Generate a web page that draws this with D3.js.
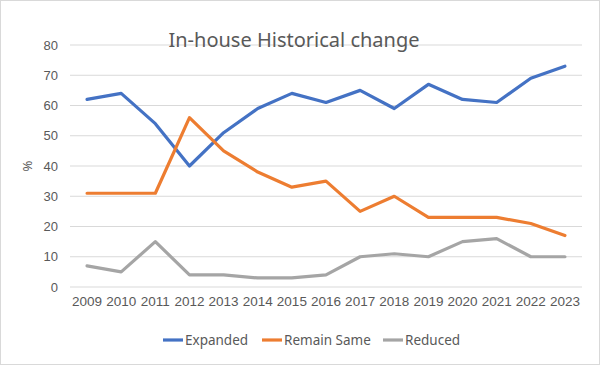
<!DOCTYPE html>
<html><head><meta charset="utf-8">
<script src="https://cdn.jsdelivr.net/npm/d3@7"></script>
<style>
html,body{margin:0;padding:0;background:#fff;}
svg{display:block;font-family:"Noto Sans","Open Sans",sans-serif;}
</style></head>
<body><svg id="c" width="600" height="365"></svg>
<script>
const years = ["2009","2010","2011","2012","2013","2014","2015","2016","2017","2018","2019","2020","2021","2022","2023"];
const expanded = [62,64,54,40,51,59,64,61,65,59,67,62,61,69,73];
const remainSame = [31,31,31,56,45,38,33,35,25,30,23,23,23,21,17];
const reduced = [7,5,15,4,4,3,3,4,10,11,10,15,16,10,10];
const yTicks = [0,10,20,30,40,50,60,70,80];
const seriesNames = ["Expanded","Remain Same","Reduced"];
const colors = ["#4472c4","#ed7d31","#a5a5a5"];
const title = "In-house Historical change";

const svg = d3.select("#c");
svg.append("rect").attr("x",0.5).attr("y",0.5).attr("width",599).attr("height",364)
  .attr("fill","#fff").attr("stroke","#d9d9d9");

const m = {l:70, r:18, t:45, b:78};
const W = 600, H = 365;
const x = d3.scaleBand().domain(years).range([m.l, W-m.r]);
const y = d3.scaleLinear().domain([0,80]).range([H-m.b, m.t]);

const grid = svg.append("g");
grid.selectAll("line").data(yTicks).join("line")
  .attr("x1",m.l).attr("x2",W-m.r)
  .attr("y1",d=>y(d)).attr("y2",d=>y(d))
  .attr("stroke","#d9d9d9").attr("stroke-width",1);

const yAxis = svg.append("g").attr("transform",`translate(${m.l},0)`)
  .call(d3.axisLeft(y).tickValues(yTicks).tickSize(0).tickPadding(12));
yAxis.select(".domain").remove();
yAxis.selectAll("text").attr("fill","#595959").style("font-size","13px");

const xAxis = svg.append("g").attr("transform",`translate(0,${H-m.b})`)
  .call(d3.axisBottom(x).tickSize(0).tickPadding(9));
xAxis.select(".domain").remove();
xAxis.selectAll("text").attr("fill","#595959").style("font-size","13.5px");

svg.append("text").attr("transform",`translate(27,${y(40)}) rotate(-90)`)
  .attr("text-anchor","middle").attr("dy","0.35em").attr("fill","#595959")
  .style("font-size","13px").text("%");

svg.append("text").attr("x",294).attr("y",47).attr("text-anchor","middle")
  .attr("fill","#595959").style("font-size","20px").text(title);

const data = [expanded, remainSame, reduced];
const line = d3.line().x((d,i)=>x(years[i])+x.bandwidth()/2).y(d=>y(d));
data.forEach((s,k)=>{
  svg.append("path").datum(s).attr("d",line).attr("fill","none")
    .attr("stroke",colors[k]).attr("stroke-width",3.2)
    .attr("stroke-linejoin","round").attr("stroke-linecap","round");
});

const legX = [163, 262, 383];
const lg = svg.append("g");
seriesNames.forEach((n,k)=>{
  const g = lg.append("g").attr("transform",`translate(${legX[k]},340)`);
  g.append("line").attr("x1",0).attr("x2",20).attr("stroke",colors[k]).attr("stroke-width",3.2);
  g.append("text").attr("x",22).attr("dy","0.35em").attr("fill","#595959")
    .style("font-size","13.5px").text(n);
});
</script></body></html>
